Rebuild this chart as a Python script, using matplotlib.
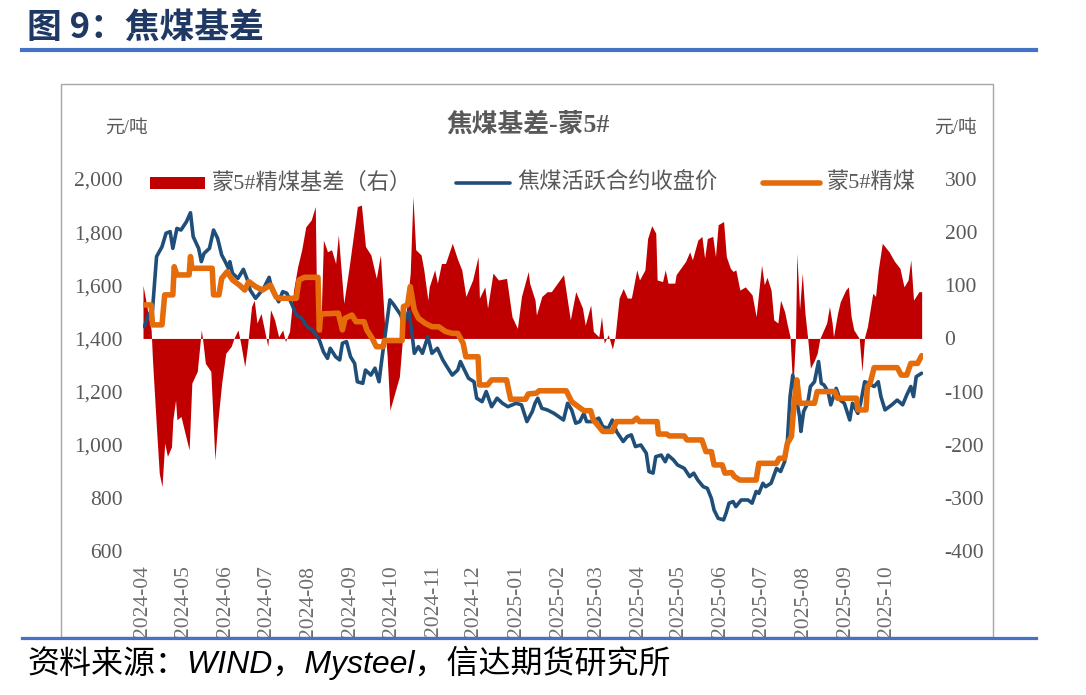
import matplotlib
matplotlib.use("Agg")
import matplotlib.pyplot as plt
import matplotlib.dates as mdates
from matplotlib.ticker import FuncFormatter
from matplotlib.patches import Rectangle
from matplotlib.lines import Line2D
import pandas as pd

# ---------------- data ----------------
fut_dates = ["2024-04-02","2024-04-05","2024-04-08","2024-04-11","2024-04-15","2024-04-18","2024-04-21","2024-04-23","2024-04-26","2024-04-29",
"2024-05-03","2024-05-06","2024-05-08","2024-05-12","2024-05-14","2024-05-16","2024-05-20","2024-05-23","2024-05-26","2024-05-29",
"2024-05-31","2024-06-03","2024-06-04","2024-06-06","2024-06-10","2024-06-14","2024-06-17","2024-06-19","2024-06-23","2024-06-26",
"2024-06-29","2024-07-03","2024-07-05","2024-07-08","2024-07-10","2024-07-13","2024-07-16","2024-07-20","2024-07-23","2024-07-27",
"2024-07-31","2024-08-04","2024-08-09","2024-08-12","2024-08-15","2024-08-17","2024-08-21","2024-08-24","2024-08-26","2024-08-29",
"2024-09-01","2024-09-04","2024-09-06","2024-09-10","2024-09-12","2024-09-16","2024-09-19","2024-09-22","2024-09-24","2024-09-27",
"2024-09-30","2024-10-03","2024-10-08","2024-10-10","2024-10-14","2024-10-16","2024-10-18","2024-10-21","2024-10-24","2024-10-28",
"2024-10-31","2024-11-04","2024-11-08","2024-11-11","2024-11-15","2024-11-19","2024-11-21","2024-11-24","2024-11-27","2024-12-01",
"2024-12-03","2024-12-07","2024-12-10","2024-12-14","2024-12-18","2024-12-22","2024-12-26","2025-01-01","2025-01-05","2025-01-09",
"2025-01-13","2025-01-15","2025-01-17","2025-01-20","2025-01-24","2025-01-29","2025-02-05","2025-02-08","2025-02-11","2025-02-14",
"2025-02-17","2025-02-20","2025-02-22","2025-02-26","2025-03-03","2025-03-06","2025-03-10","2025-03-13","2025-03-16","2025-03-21",
"2025-03-24","2025-03-27","2025-03-30","2025-04-03","2025-04-07","2025-04-09","2025-04-12","2025-04-14","2025-04-18","2025-04-21",
"2025-04-23","2025-04-27","2025-04-30","2025-05-05","2025-05-09","2025-05-12","2025-05-15","2025-05-19","2025-05-22","2025-05-25",
"2025-05-27","2025-05-30","2025-06-03","2025-06-05","2025-06-07","2025-06-10","2025-06-12","2025-06-16","2025-06-21","2025-06-24",
"2025-06-27","2025-06-29","2025-07-02","2025-07-04","2025-07-08","2025-07-12","2025-07-15","2025-07-18","2025-07-20","2025-07-22",
"2025-07-24","2025-07-26","2025-07-29","2025-07-30","2025-08-01","2025-08-04","2025-08-06","2025-08-09","2025-08-12","2025-08-14",
"2025-08-16","2025-08-19","2025-08-21","2025-08-25","2025-08-28","2025-08-31","2025-09-04","2025-09-06","2025-09-10","2025-09-12",
"2025-09-15","2025-09-18","2025-09-22","2025-09-25","2025-09-27","2025-09-30","2025-10-05","2025-10-09","2025-10-13","2025-10-16",
"2025-10-19","2025-10-21","2025-10-23","2025-10-27"]
fut_vals = [1444,1488,1507,1708,1745,1796,1802,1739,1814,1808,
1839,1873,1783,1739,1689,1720,1739,1808,1777,1714,
1695,1664,1689,1645,1626,1660,1620,1582,1551,1570,
1589,1630,1582,1557,1538,1576,1570,1526,1488,1476,
1444,1432,1394,1350,1325,1363,1331,1319,1382,1388,
1331,1306,1237,1231,1281,1262,1288,1237,1319,1432,
1545,1526,1488,1457,1501,1432,1344,1369,1344,1407,
1344,1363,1319,1294,1262,1281,1313,1281,1250,1237,
1175,1162,1200,1143,1175,1156,1143,1156,1150,1087,
1125,1156,1175,1137,1131,1118,1093,1156,1131,1081,
1087,1118,1087,1087,1100,1068,1062,1093,1050,1012,
1031,1037,993,999,968,899,893,955,961,936,
961,943,924,911,880,893,867,842,836,798,
754,723,717,745,780,786,767,792,792,780,
824,817,855,842,855,911,899,936,1012,1181,
1262,1193,1106,1050,1125,1156,1219,1237,1313,1231,
1225,1200,1150,1212,1168,1156,1093,1156,1118,1156,
1237,1231,1219,1237,1181,1131,1150,1168,1150,1187,
1219,1181,1256,1269]

spot_dates = ["2024-04-02","2024-04-07","2024-04-08","2024-04-15","2024-04-17","2024-04-23","2024-04-24","2024-04-26","2024-05-05","2024-05-06",
"2024-05-07","2024-05-22","2024-05-23","2024-05-27","2024-05-29","2024-06-02","2024-06-06","2024-06-11","2024-06-15","2024-06-18",
"2024-06-23","2024-06-28","2024-07-04","2024-07-08","2024-07-10","2024-07-23","2024-07-25","2024-07-29","2024-08-08","2024-08-09",
"2024-08-10","2024-08-23","2024-08-26","2024-08-28","2024-09-02","2024-09-05","2024-09-11","2024-09-13","2024-09-17","2024-09-20",
"2024-09-25","2024-09-26","2024-10-09","2024-10-10","2024-10-13","2024-10-15","2024-10-18","2024-10-21","2024-10-26","2024-10-31",
"2024-11-05","2024-11-10","2024-11-15","2024-11-19","2024-11-23","2024-11-25","2024-12-04","2024-12-05","2024-12-11","2024-12-14",
"2024-12-25","2024-12-28","2025-01-08","2025-01-10","2025-01-16","2025-01-18","2025-02-07","2025-02-11","2025-02-16","2025-02-20",
"2025-02-25","2025-02-27","2025-03-06","2025-03-13","2025-03-16","2025-03-28","2025-03-31","2025-04-02","2025-04-15","2025-04-16",
"2025-04-22","2025-04-24","2025-05-05","2025-05-07","2025-05-18","2025-05-21","2025-05-25","2025-05-27","2025-06-02","2025-06-04",
"2025-06-09","2025-06-11","2025-06-15","2025-06-27","2025-06-29","2025-07-12","2025-07-14","2025-07-18","2025-07-20","2025-07-23",
"2025-07-25","2025-07-27","2025-07-29","2025-08-09","2025-08-11","2025-08-24","2025-08-26","2025-09-09","2025-09-10","2025-09-16",
"2025-09-17","2025-09-19","2025-09-22","2025-10-09","2025-10-12","2025-10-16","2025-10-19","2025-10-24","2025-10-27"]
spot_vals = [1526,1526,1451,1451,1564,1564,1670,1639,1639,1708,
1664,1664,1564,1564,1626,1651,1620,1601,1582,1614,
1595,1582,1601,1557,1551,1551,1620,1630,1630,1432,
1492,1495,1432,1476,1488,1463,1463,1432,1400,1369,
1369,1392,1392,1520,1526,1595,1507,1476,1457,1444,
1444,1426,1419,1419,1382,1331,1331,1225,1225,1244,
1244,1171,1171,1191,1194,1203,1203,1162,1143,1128,
1128,1093,1050,1050,1087,1087,1100,1087,1087,1040,
1040,1033,1033,1018,1018,974,974,924,924,893,
895,880,867,867,930,930,949,949,1005,1031,
1156,1244,1156,1156,1200,1200,1175,1175,1131,1131,
1219,1231,1290,1290,1262,1262,1306,1306,1335]

basis_dates = ["2024-04-01","2024-04-03","2024-04-07","2024-04-08","2024-04-11","2024-04-13","2024-04-15","2024-04-17","2024-04-19","2024-04-22",
"2024-04-23","2024-04-25","2024-04-26","2024-04-29","2024-05-05","2024-05-07","2024-05-11","2024-05-14","2024-05-15","2024-05-17",
"2024-05-21","2024-05-24","2024-05-26","2024-05-29","2024-06-01","2024-06-05","2024-06-07","2024-06-10","2024-06-12","2024-06-15",
"2024-06-17","2024-06-20","2024-06-22","2024-06-24","2024-06-27","2024-07-02","2024-07-04","2024-07-07","2024-07-10","2024-07-13",
"2024-07-15","2024-07-18","2024-07-21","2024-07-24","2024-07-27","2024-07-30","2024-08-03","2024-08-06","2024-08-07","2024-08-10",
"2024-08-12","2024-08-15","2024-08-18","2024-08-21","2024-08-23","2024-08-27","2024-08-31","2024-09-04","2024-09-06","2024-09-09",
"2024-09-12","2024-09-16","2024-09-20","2024-09-23","2024-09-26","2024-09-28","2024-09-30","2024-10-07","2024-10-09","2024-10-13",
"2024-10-15","2024-10-17","2024-10-19","2024-10-23","2024-10-25","2024-10-28","2024-10-29","2024-11-02","2024-11-04","2024-11-07",
"2024-11-10","2024-11-15","2024-11-19","2024-11-22","2024-11-25","2024-11-30","2024-12-04","2024-12-05","2024-12-09","2024-12-11",
"2024-12-15","2024-12-19","2024-12-25","2024-12-29","2025-01-02","2025-01-05","2025-01-10","2025-01-11","2025-01-15","2025-01-16",
"2025-01-20","2025-01-24","2025-01-27","2025-02-05","2025-02-10","2025-02-14","2025-02-19","2025-02-21","2025-02-25","2025-02-27",
"2025-03-03","2025-03-05","2025-03-07","2025-03-10","2025-03-13","2025-03-15","2025-03-18","2025-03-21","2025-03-24","2025-03-27",
"2025-03-31","2025-04-02","2025-04-06","2025-04-08","2025-04-11","2025-04-14","2025-04-15","2025-04-19","2025-04-21","2025-04-23",
"2025-04-28","2025-04-29","2025-05-06","2025-05-09","2025-05-11","2025-05-15","2025-05-18","2025-05-20","2025-05-22","2025-05-26",
"2025-05-28","2025-05-30","2025-06-03","2025-06-05","2025-06-08","2025-06-10","2025-06-12","2025-06-15","2025-06-19","2025-06-24",
"2025-06-27","2025-07-01","2025-07-03","2025-07-05","2025-07-08","2025-07-10","2025-07-13","2025-07-15","2025-07-18","2025-07-20",
"2025-07-22","2025-07-24","2025-07-26","2025-07-27","2025-07-29","2025-07-31","2025-08-02","2025-08-04","2025-08-06","2025-08-09",
"2025-08-11","2025-08-13","2025-08-18","2025-08-20","2025-08-22","2025-08-23","2025-08-26","2025-08-28","2025-09-01","2025-09-03",
"2025-09-05","2025-09-07","2025-09-11","2025-09-13","2025-09-15","2025-09-17","2025-09-21","2025-09-23","2025-09-25","2025-09-28",
"2025-10-03","2025-10-07","2025-10-11","2025-10-14","2025-10-17","2025-10-19","2025-10-21","2025-10-25","2025-10-27"]
basis_vals = [100,72,16,-41,-172,-254,-279,-197,-222,-204,
-153,-116,-153,-147,-210,-84,-62,16,-3,-47,
-62,-229,-160,-84,-28,-15,0,16,-9,-53,
-15,60,72,29,47,-15,54,35,3,16,
-6,13,91,135,167,210,223,248,66,10,
185,163,167,141,195,66,135,210,248,251,
173,157,113,157,29,-34,-135,-72,-9,72,
123,267,167,157,129,72,97,129,104,141,
141,179,148,129,79,110,154,76,97,57,
123,110,113,41,19,79,126,104,72,44,
79,88,88,120,35,88,57,25,63,13,
3,41,-9,7,-20,3,76,94,76,76,
129,110,129,188,212,198,110,107,129,104,
104,120,145,163,148,185,192,151,188,192,
154,214,220,154,132,126,129,91,97,82,
41,138,101,115,91,35,29,72,50,25,
3,-97,3,160,54,123,47,0,-56,-41,
-28,0,29,60,29,3,47,69,91,97,
41,16,0,-62,3,22,85,79,129,179,
163,145,132,97,110,148,72,88,88]

left_ticks = [600, 800, 1000, 1200, 1400, 1600, 1800, 2000]
right_ticks = [-400, -300, -200, -100, 0, 100, 200, 300]
legend_labels = ["蒙5#精煤基差（右）", "焦煤活跃合约收盘价", "蒙5#精煤"]

# ---------------- styles ----------------
RED = "#C00000"
BLUE = "#1F4E79"
ORANGE = "#E46C0A"
GRAY = "#595959"
CJK = ["Noto Sans CJK SC", "DejaVu Sans"]
SERIF_CJK = ["Liberation Serif", "Noto Sans CJK SC", "DejaVu Sans"]

W, H = 1086, 695
fig = plt.figure(figsize=(W / 100, H / 100), dpi=100)

def fx(px):
    return px / W

def fy(py):
    return 1 - py / H

ax = fig.add_axes([fx(143), fy(551), (923 - 143) / W, (551 - 179) / H])
ax2 = ax.twinx()
ax.set_zorder(ax2.get_zorder() + 1)
ax.patch.set_visible(False)

fd = pd.to_datetime(fut_dates)
sd = pd.to_datetime(spot_dates)
bd = pd.to_datetime(basis_dates)

ax2.fill_between(bd, basis_vals, 0, color=RED, linewidth=0)
ax.plot(fd, fut_vals, color=BLUE, lw=2.6, solid_joinstyle="round", solid_capstyle="round")
ax.plot(sd, spot_vals, color=ORANGE, lw=4.0, solid_joinstyle="round", solid_capstyle="round")

ax.set_xlim(pd.Timestamp("2024-04-01"), pd.Timestamp("2025-10-28"))
ax.set_ylim(600, 2000)
ax2.set_ylim(-400, 300)
ax.set_yticks(left_ticks)
ax2.set_yticks(right_ticks)
ax.yaxis.set_major_formatter(FuncFormatter(lambda v, p: f"{int(v):,}"))
ax2.yaxis.set_major_formatter(FuncFormatter(lambda v, p: f"{int(v)}"))
ax.xaxis.set_major_locator(mdates.MonthLocator())
ax.xaxis.set_major_formatter(mdates.DateFormatter("%Y-%m"))

for a in (ax, ax2):
    for s in a.spines.values():
        s.set_visible(False)
ax.tick_params(axis="y", length=0, pad=14.5, labelsize=15.5, labelcolor=GRAY)
ax2.tick_params(axis="y", length=0, pad=15.5, labelsize=15.5, labelcolor=GRAY)
ax.tick_params(axis="x", length=0, pad=10.5, labelsize=15.5, labelcolor="#6E6E6E")
for lab in ax.get_xticklabels():
    lab.set_rotation(90)
    lab.set_va("top")
    lab.set_ha("center")
for lab in ax.get_yticklabels() + ax2.get_yticklabels() + ax.get_xticklabels():
    lab.set_family("Liberation Serif")

# ---------------- frame, rules, texts ----------------
fig.add_artist(Rectangle((fx(61), fy(637)), (993 - 61) / W, (637 - 84) / H,
                         transform=fig.transFigure, fill=False, edgecolor="#A6A6A6", lw=1.0, zorder=0))
fig.add_artist(Line2D([fx(22), fx(1036)], [fy(50), fy(50)], color="#4472C4", lw=3.0, zorder=10))
fig.add_artist(Line2D([fx(22), fx(1036)], [fy(638), fy(638)], color="#4472C4", lw=2.3, zorder=10))

fig.text(fx(27), fy(27), "图 9：焦煤基差", fontsize=25, fontweight="bold", color="#1F3864",
         ha="left", va="center", family=CJK)
fig.text(fx(528), fy(125), "焦煤基差-蒙5#", fontsize=18.5, fontweight="bold", color=GRAY,
         ha="center", va="center", family=SERIF_CJK)
fig.text(fx(126), fy(128), "元/吨", fontsize=13.5, color=GRAY, ha="center", va="center", family=SERIF_CJK)
fig.text(fx(955), fy(128), "元/吨", fontsize=13.5, color=GRAY, ha="center", va="center", family=SERIF_CJK)

# legend (manual placement)
ly = 183
fig.add_artist(Rectangle((fx(150), fy(ly + 6)), 55 / W, 12 / H, transform=fig.transFigure,
                         facecolor=RED, edgecolor="none"))
fig.text(fx(212), fy(ly), legend_labels[0], fontsize=16, color=GRAY, ha="left", va="center", family=SERIF_CJK)
fig.add_artist(Line2D([fx(456), fx(510)], [fy(ly), fy(ly)], color=BLUE, lw=2.6, solid_capstyle="round"))
fig.text(fx(517), fy(ly), legend_labels[1], fontsize=16, color=GRAY, ha="left", va="center", family=SERIF_CJK)
fig.add_artist(Line2D([fx(763), fx(820)], [fy(ly), fy(ly)], color=ORANGE, lw=4.0, solid_capstyle="round"))
fig.text(fx(827), fy(ly), legend_labels[2], fontsize=16, color=GRAY, ha="left", va="center", family=SERIF_CJK)

fig.text(fx(27), fy(663), "资料来源：WIND，Mysteel，信达期货研究所", fontsize=23, style="italic",
         color="black", ha="left", va="center", family=["Liberation Sans", "Noto Sans CJK SC", "DejaVu Sans"])

fig.savefig("out.png", dpi=100)
